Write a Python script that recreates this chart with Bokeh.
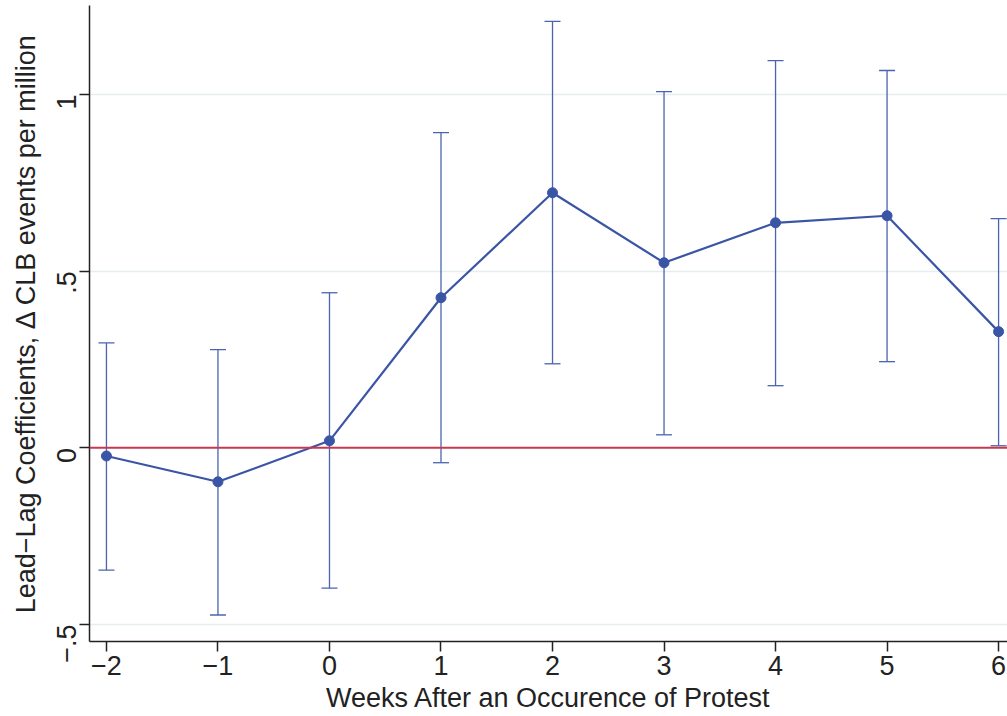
import math
from bokeh.plotting import figure
from bokeh.models import ColumnDataSource, Whisker, TeeHead, Span, FixedTicker
from bokeh.embed import file_html
from bokeh.resources import INLINE

weeks = [-2, -1, 0, 1, 2, 3, 4, 5, 6]
coef = [-0.023, -0.096, 0.020, 0.425, 0.722, 0.524, 0.637, 0.657, 0.329]
ci_upper = [0.297, 0.278, 0.439, 0.892, 1.207, 1.008, 1.096, 1.068, 0.649]
ci_lower = [-0.346, -0.473, -0.397, -0.042, 0.238, 0.037, 0.176, 0.244, 0.006]
y_ticks = [-0.5, 0, 0.5, 1]
y_tick_labels = {-0.5: "-.5", 0: "0", 0.5: ".5", 1: "1"}

FONT = "Liberation Sans"
BLUE = "#3a55a5"
EBLUE = "#4a64b0"
RED = "#c8374f"

p = figure(width=1007, height=716, output_backend="svg", toolbar_location=None,
           x_range=(-2.152, 6.08), y_range=(-0.548, 1.252),
           min_border_left=89, min_border_right=0, min_border_top=5, min_border_bottom=75)
p.outline_line_color = None
p.background_fill_color = "white"
p.border_fill_color = "white"

src = ColumnDataSource(dict(x=weeks, y=coef, lo=ci_lower, hi=ci_upper))

# zero line
p.add_layout(Span(location=0, dimension="width", line_color=RED, line_width=2))

w = Whisker(source=src, base="x", upper="hi", lower="lo", line_color=EBLUE, line_width=1.3,
            upper_head=TeeHead(size=16, line_color=EBLUE, line_width=1.3),
            lower_head=TeeHead(size=16, line_color=EBLUE, line_width=1.3))
p.add_layout(w)

p.line("x", "y", source=src, line_color=BLUE, line_width=2.2)
p.scatter("x", "y", source=src, size=10, fill_color=BLUE, line_color=BLUE)

# grid
p.xgrid.grid_line_color = None
p.ygrid.grid_line_color = "#e6eef0"
p.ygrid.grid_line_width = 1.5
p.ygrid.ticker = FixedTicker(ticks=[-0.5, 0.5, 1])

# axes
p.xaxis.ticker = FixedTicker(ticks=weeks)
p.xaxis.major_label_overrides = {v: ("\u2212" + str(-v) if v < 0 else str(v)) for v in weeks}
p.yaxis.ticker = FixedTicker(ticks=y_ticks)
p.yaxis.major_label_overrides = {k: v.replace("-", "\u2212") for k, v in y_tick_labels.items()}
p.yaxis.major_label_orientation = math.pi / 2

for ax in (p.xaxis[0], p.yaxis[0]):
    ax.axis_line_color = "#222222"
    ax.axis_line_width = 1.5
    ax.major_tick_line_color = "#222222"
    ax.major_tick_line_width = 1.5
    ax.major_tick_out = 10
    ax.major_tick_in = 0
    ax.minor_tick_line_color = None
    ax.major_label_text_font = FONT
    ax.major_label_text_font_size = "27px"
    ax.major_label_text_color = "#222222"
    ax.axis_label_text_font = FONT
    ax.axis_label_text_font_size = "27px"
    ax.axis_label_text_font_style = "normal"
    ax.axis_label_text_color = "#222222"

p.xaxis.axis_label = "Weeks After an Occurence of Protest"
p.yaxis.axis_label = "Lead\u2212Lag Coefficients, \u0394 CLB events per million"
p.xaxis.major_label_standoff = 4
p.xaxis.axis_label_standoff = 5
p.yaxis.major_label_standoff = 13
p.yaxis.axis_label_standoff = 4

open("out.html", "w").write(file_html(p, INLINE))
